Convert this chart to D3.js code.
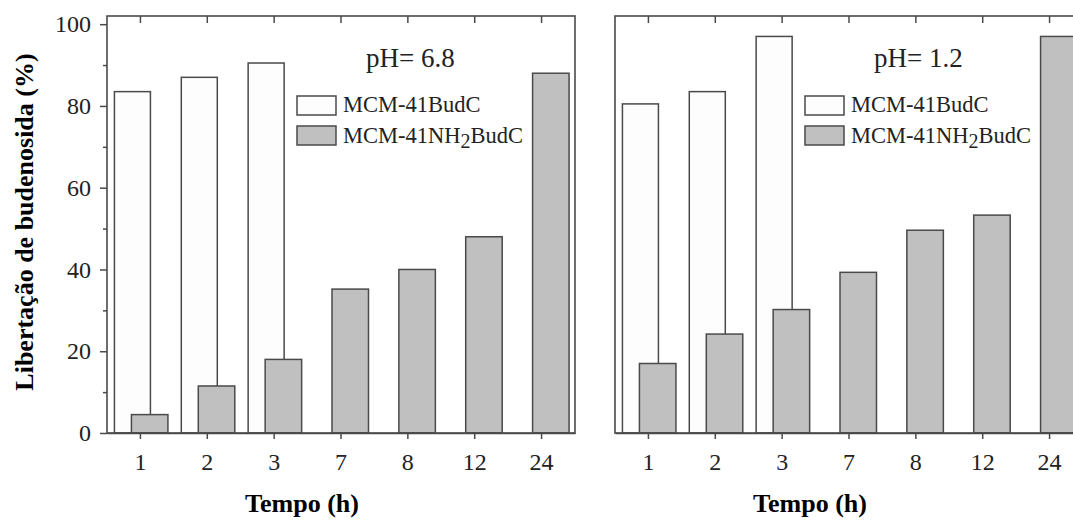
<!DOCTYPE html>
<html>
<head>
<meta charset="utf-8">
<script src="https://cdn.jsdelivr.net/npm/d3@7"></script>
<style>
  html, body { margin: 0; padding: 0; background: #fff; }
  svg { display: block; font-family: "Liberation Serif", "Times New Roman", serif; }
</style>
</head>
<body>
<svg id="chart" width="1073" height="520"></svg>
<script>
// ---- Data ----
const categories = ["1", "2", "3", "7", "8", "12", "24"];
const seriesNames = ["MCM-41BudC", "MCM-41NH2BudC"];
const phLabels = ["pH= 6.8", "pH= 1.2"];
// pH 6.8
const ph68BudC = [83.5, 87.0, 90.5];            // only times 1, 2, 3
const ph68NH2BudC = [4.5, 11.5, 18.0, 35.2, 40.0, 48.0, 88.0];
// pH 1.2
const ph12BudC = [80.5, 83.5, 97.0];
const ph12NH2BudC = [17.0, 24.2, 30.2, 39.3, 49.6, 53.3, 97.0];
const yTicks = [0, 20, 40, 60, 80, 100];
const yMinorTicks = [10, 30, 50, 70, 90];
const xTitle = "Tempo (h)";
const yTitle = "Libertação de budenosida (%)";

// ---- Layout ----
const svg = d3.select("#chart");
const plotTop = 16, plotBottom = 433, panelW = 468;
const panelLefts = [107, 615];
const y = d3.scaleLinear().domain([0, 102]).range([plotBottom, plotTop]);
const barW = 36;
const whiteOff = -26, grayOff = -9;
const strokeCol = "#4a4a4a";
const textCol = "#222";

const panels = [
  { left: panelLefts[0], white: ph68BudC, gray: ph68NH2BudC, label: phLabels[0], yAxis: true },
  { left: panelLefts[1], white: ph12BudC, gray: ph12NH2BudC, label: phLabels[1], yAxis: false }
];

panels.forEach(p => {
  const x = d3.scaleBand().domain(categories).range([p.left, p.left + panelW]).padding(0);
  const cx = c => x(c) + x.bandwidth() / 2;
  const g = svg.append("g");

  // white bars (behind)
  g.selectAll("rect.w").data(p.white).join("rect")
    .attr("class", "w")
    .attr("x", (d, i) => cx(categories[i]) + whiteOff)
    .attr("width", barW)
    .attr("y", d => y(d))
    .attr("height", d => y(0) - y(d))
    .attr("fill", "#fdfdfd")
    .attr("stroke", strokeCol)
    .attr("stroke-width", 1.5);

  // gray bars (front)
  g.selectAll("rect.g").data(p.gray).join("rect")
    .attr("class", "g")
    .attr("x", (d, i) => cx(categories[i]) + grayOff)
    .attr("width", barW + 0.5)
    .attr("y", d => y(d))
    .attr("height", d => y(0) - y(d))
    .attr("fill", "#c0c0c0")
    .attr("stroke", strokeCol)
    .attr("stroke-width", 1.5);

  // frame
  g.append("rect")
    .attr("x", p.left).attr("y", y(102))
    .attr("width", panelW).attr("height", y(0) - y(102))
    .attr("fill", "none").attr("stroke", strokeCol).attr("stroke-width", 1.6);

  // bottom axis
  const xAxis = d3.axisBottom(x).tickSize(6).tickPadding(14).tickSizeOuter(0);
  const xa = g.append("g").attr("transform", `translate(0,${y(0)})`).call(xAxis);
  xa.select(".domain").attr("stroke", strokeCol).attr("stroke-width", 1.6);
  xa.selectAll(".tick line").attr("stroke", strokeCol).attr("stroke-width", 1.5);
  xa.selectAll(".tick text").attr("font-size", 24).attr("fill", textCol)
    .attr("font-family", "Liberation Serif, serif");

  // top ticks (inward)
  const xTop = d3.axisBottom(x).tickSize(7).tickFormat("").tickSizeOuter(0);
  const xt = g.append("g").attr("transform", `translate(0,${y(102)})`).call(xTop);
  xt.select(".domain").remove();
  xt.selectAll(".tick line").attr("stroke", strokeCol).attr("stroke-width", 1.5);

  if (p.yAxis) {
    const yAxis = d3.axisLeft(y).tickValues(yTicks).tickSize(7).tickPadding(9).tickSizeOuter(0);
    const ya = g.append("g").attr("transform", `translate(${p.left},0)`).call(yAxis);
    ya.select(".domain").remove();
    ya.selectAll(".tick line").attr("stroke", strokeCol).attr("stroke-width", 1.5);
    ya.selectAll(".tick text").attr("font-size", 24).attr("fill", textCol)
      .attr("font-family", "Liberation Serif, serif");
    const yMinor = d3.axisLeft(y).tickValues(yMinorTicks).tickSize(4).tickFormat("");
    const ym = g.append("g").attr("transform", `translate(${p.left},0)`).call(yMinor);
    ym.select(".domain").remove();
    ym.selectAll(".tick line").attr("stroke", strokeCol).attr("stroke-width", 1.5);
  }

  // pH label
  g.append("text")
    .attr("x", p.left + 259).attr("y", 67)
    .attr("font-size", 27).attr("fill", textCol)
    .text(p.label);

  // legend
  const lx = p.left + 190;
  const lys = [96, 126];
  const fills = ["#fdfdfd", "#c0c0c0"];
  lys.forEach((ly, i) => {
    g.append("rect").attr("x", lx).attr("y", ly).attr("width", 39).attr("height", 19)
      .attr("fill", fills[i]).attr("stroke", strokeCol).attr("stroke-width", 1.5);
  });
  g.append("text").attr("x", lx + 46).attr("y", 112).attr("font-size", 22.5).attr("fill", textCol)
    .text(seriesNames[0]);
  const t2 = g.append("text").attr("x", lx + 46).attr("y", 143).attr("font-size", 22.5).attr("fill", textCol);
  t2.append("tspan").text("MCM-41NH");
  t2.append("tspan").attr("dy", 5).attr("font-size", 20).text("2");
  t2.append("tspan").attr("dy", -5).text("BudC");

  // x title
  g.append("text")
    .attr("x", p.left + 195).attr("y", 512)
    .attr("text-anchor", "middle")
    .attr("font-size", 26).attr("font-weight", "bold").attr("fill", "#000")
    .text(xTitle);
});

// y title
svg.append("text")
  .attr("transform", `translate(33,222) rotate(-90)`)
  .attr("text-anchor", "middle")
  .attr("font-size", 26).attr("font-weight", "bold").attr("fill", "#000")
  .text(yTitle);
</script>
</body>
</html>
